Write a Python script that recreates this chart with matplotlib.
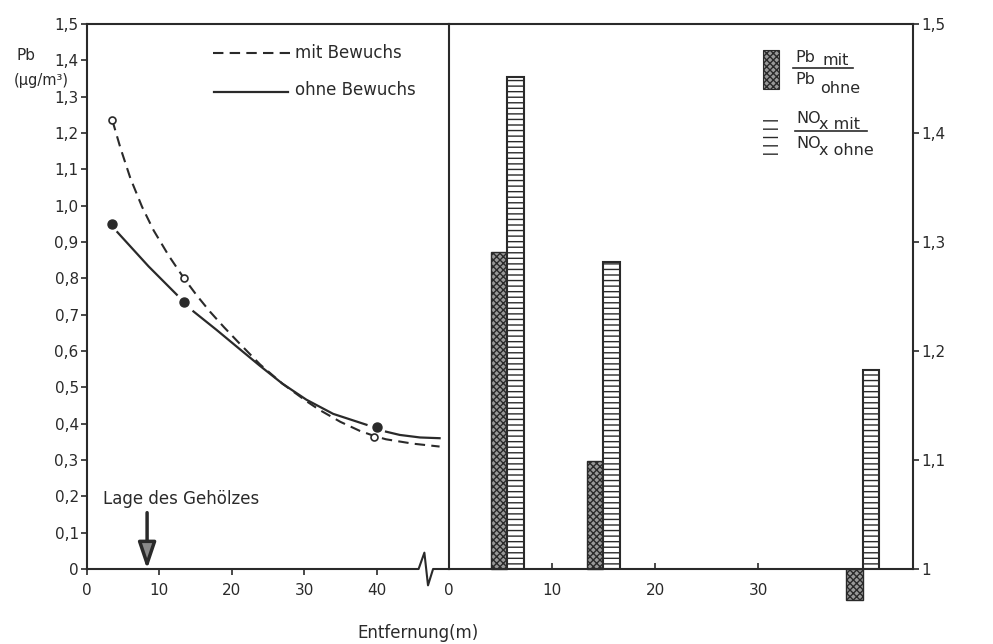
import matplotlib
matplotlib.use("Agg")
import matplotlib.pyplot as plt
from matplotlib.patches import Rectangle
from matplotlib.ticker import FuncFormatter

# --- Daten ---
# Pb-Konzentration mit Bewuchs (gestrichelt), Kurve und Messpunkte
mit_x = [3.5, 4.6, 6.0, 7.6, 9.2, 11.3, 13.4, 15.2, 17.0, 18.9, 21.1, 23.9,
         27.0, 30.3, 32.1, 35.0, 37.7, 39.7, 41.3, 45.0, 48.7]
mit_y = [1.235, 1.160, 1.075, 0.997, 0.932, 0.862, 0.800, 0.752, 0.708,
         0.666, 0.620, 0.563, 0.510, 0.462, 0.438, 0.405, 0.380, 0.366,
         0.357, 0.345, 0.337]
mit_pts_x = [3.5, 13.4, 39.7]
mit_pts_y = [1.235, 0.80, 0.364]

# Pb-Konzentration ohne Bewuchs (durchgezogen), drei Kurvenabschnitte
ohne_seg1_x = [4.2, 8.5, 12.4]
ohne_seg1_y = [0.927, 0.833, 0.755]
ohne_seg2_x = [14.7, 17.9, 20.5, 23.9, 27.0, 30.3, 34.0, 38.6]
ohne_seg2_y = [0.709, 0.658, 0.615, 0.559, 0.51, 0.466, 0.427, 0.397]
ohne_seg3_x = [41.3, 43.2, 46.0, 48.7]
ohne_seg3_y = [0.378, 0.369, 0.362, 0.36]
ohne_pts_x = [3.5, 13.4, 40.0]
ohne_pts_y = [0.95, 0.734, 0.392]

# Verhaeltnisse mit/ohne Bewuchs (rechte Haelfte)
bar_pos = [5.65, 14.97, 40.12]
pb_ratio = [1.291, 1.099, 0.972]
nox_ratio = [1.451, 1.282, 1.183]

left_yticks = [0.0, 0.1, 0.2, 0.3, 0.4, 0.5, 0.6, 0.7, 0.8, 0.9, 1.0,
               1.1, 1.2, 1.3, 1.4, 1.5]
left_xticks = [0, 10, 20, 30, 40]
right_yticks = [1.0, 1.1, 1.2, 1.3, 1.4, 1.5]
right_xticks = [0, 10, 20, 30]

ink = '#2a2a2a'
plt.rcParams['font.family'] = 'DejaVu Sans'
plt.rcParams['hatch.linewidth'] = 1.0
plt.rcParams['hatch.color'] = ink

fig = plt.figure(figsize=(9.93, 6.44), dpi=100)
W, H = 993.0, 644.0
ax1 = fig.add_axes([87 / W, 1 - 569 / H, (449 - 87) / W, 545 / H])
ax2 = fig.add_axes([449 / W, 1 - 569 / H, (913 - 449) / W, 545 / H])
ax2.set_facecolor('none')


def komma(fmt, null):
    def f(v, pos):
        if abs(v - null) < 1e-9:
            return str(int(round(null)))
        return fmt.format(v).replace('.', ',')
    return FuncFormatter(f)


# --- linke Haelfte: Pb-Konzentration ---
ax1.set_xlim(0, 50)
ax1.set_ylim(0, 1.5)
ax1.plot(mit_x, mit_y, color=ink, lw=1.5, ls=(0, (5, 3)))
for sx, sy in [(ohne_seg1_x, ohne_seg1_y), (ohne_seg2_x, ohne_seg2_y),
               (ohne_seg3_x, ohne_seg3_y)]:
    ax1.plot(sx, sy, color=ink, lw=1.6)
ax1.plot(mit_pts_x, mit_pts_y, 'o', ms=5, mfc='white', mec=ink, mew=1.2, zorder=4)
ax1.plot(ohne_pts_x, ohne_pts_y, 'o', ms=6.5, color=ink, zorder=4)

ax1.set_xticks(left_xticks)
ax1.set_yticks(left_yticks)
ax1.yaxis.set_major_formatter(komma('{:.1f}', 0))
ax1.tick_params(axis='y', direction='out', length=4, width=1.2, colors=ink,
                labelsize=11, pad=2)
ax1.tick_params(axis='x', direction='out', length=4, width=1.2, colors=ink,
                labelsize=11, pad=6)
for s in ['left', 'top', 'right']:
    ax1.spines[s].set_color(ink)
    ax1.spines[s].set_linewidth(1.5)
ax1.spines['bottom'].set_visible(False)
# x-Achse mit Bruchzeichen
ax1.plot([0, 45.8, 46.6, 47.1, 47.8, 50], [0, 0, 0.045, -0.045, 0, 0],
         color=ink, lw=1.5, clip_on=False, zorder=5)

# Legende links
ax1.plot([17.4, 28.0], [1.42, 1.42], color=ink, lw=1.5, ls=(0, (5, 3)))
ax1.text(28.7, 1.42, 'mit Bewuchs', fontsize=12, color=ink, va='center')
ax1.plot([17.6, 27.8], [1.314, 1.314], color=ink, lw=1.6)
ax1.text(28.7, 1.318, 'ohne Bewuchs', fontsize=12, color=ink, va='center')

# Lage des Gehoelzes
ax1.text(2.25, 0.178, 'Lage des Gehölzes', fontsize=12, color=ink,
         va='baseline')
ax1.annotate('', xy=(8.3, 0.0), xytext=(8.3, 0.155),
             arrowprops=dict(arrowstyle='-|>,head_length=0.8,head_width=0.27',
                             mutation_scale=20, lw=2.5, fc='#8a8a8a', ec=ink,
                             shrinkA=0, shrinkB=0))

# --- rechte Haelfte: Verhaeltnisse ---
ax2.set_xlim(0, 45)
ax2.set_ylim(1.0, 1.5)
pb_h = [v - 1 for v in pb_ratio]
nox_h = [v - 1 for v in nox_ratio]
pb_bars = ax2.bar(bar_pos, pb_h, width=-1.6, bottom=1.0, align='edge',
                  facecolor='#999999', edgecolor=ink, hatch='xxxxx', lw=1.0)
for b in pb_bars:
    b.set_clip_on(False)
ax2.bar(bar_pos, nox_h, width=1.6, bottom=1.0, align='edge',
        facecolor='white', edgecolor=ink, hatch='---', lw=1.5)

ax2.set_xticks(right_xticks)
ax2.set_yticks(right_yticks)
ax2.yaxis.tick_right()
ax2.yaxis.set_major_formatter(komma('{:.1f}', 1))
ax2.tick_params(axis='y', direction='out', length=4, width=1.2, colors=ink,
                labelsize=11, pad=2)
ax2.tick_params(axis='x', direction='in', length=4, width=1.2, colors=ink,
                labelsize=11, pad=10)
ax2.spines['left'].set_visible(False)
for s in ['bottom', 'top', 'right']:
    ax2.spines[s].set_color(ink)
    ax2.spines[s].set_linewidth(1.5)

# Legende rechts
T = ax2.transAxes
ax2.add_patch(Rectangle((0.677, 0.881), 0.034, 0.071, transform=T,
                        facecolor='#999999', edgecolor=ink, hatch='xxxxx',
                        lw=0.8))
ax2.add_patch(Rectangle((0.677, 0.760), 0.032, 0.073, transform=T,
                        facecolor='white', edgecolor=ink, hatch='--', lw=0))
ax2.text(0.746, 0.930, 'Pb', transform=T, fontsize=11.5, color=ink,
         va='baseline')
ax2.text(0.804, 0.924, 'mit', transform=T, fontsize=11.5, color=ink,
         va='baseline')
ax2.plot([0.741, 0.871], [0.919, 0.919], transform=T, color=ink, lw=1.2)
ax2.text(0.746, 0.890, 'Pb', transform=T, fontsize=11.5, color=ink,
         va='baseline')
ax2.text(0.800, 0.874, 'ohne', transform=T, fontsize=11.5, color=ink,
         va='baseline')
ax2.text(0.749, 0.818, 'NO', transform=T, fontsize=11.5, color=ink,
         va='baseline')
ax2.text(0.797, 0.808, 'x mit', transform=T, fontsize=11.5, color=ink,
         va='baseline')
ax2.plot([0.746, 0.901], [0.803, 0.803], transform=T, color=ink, lw=1.2)
ax2.text(0.749, 0.772, 'NO', transform=T, fontsize=11.5, color=ink,
         va='baseline')
ax2.text(0.797, 0.759, 'x ohne', transform=T, fontsize=11.5, color=ink,
         va='baseline')

# Achsenbeschriftungen
fig.text(26 / W, 1 - 55 / H, 'Pb', fontsize=11, color=ink,
         ha='center', va='center')
fig.text(41 / W, 1 - 80 / H, '(µg/m³)', fontsize=10.5, color=ink,
         ha='center', va='center')
fig.text(418 / W, 1 - 633 / H, 'Entfernung(m)', fontsize=12, color=ink,
         ha='center', va='center')

fig.savefig('out.png', dpi=100, facecolor='white')
